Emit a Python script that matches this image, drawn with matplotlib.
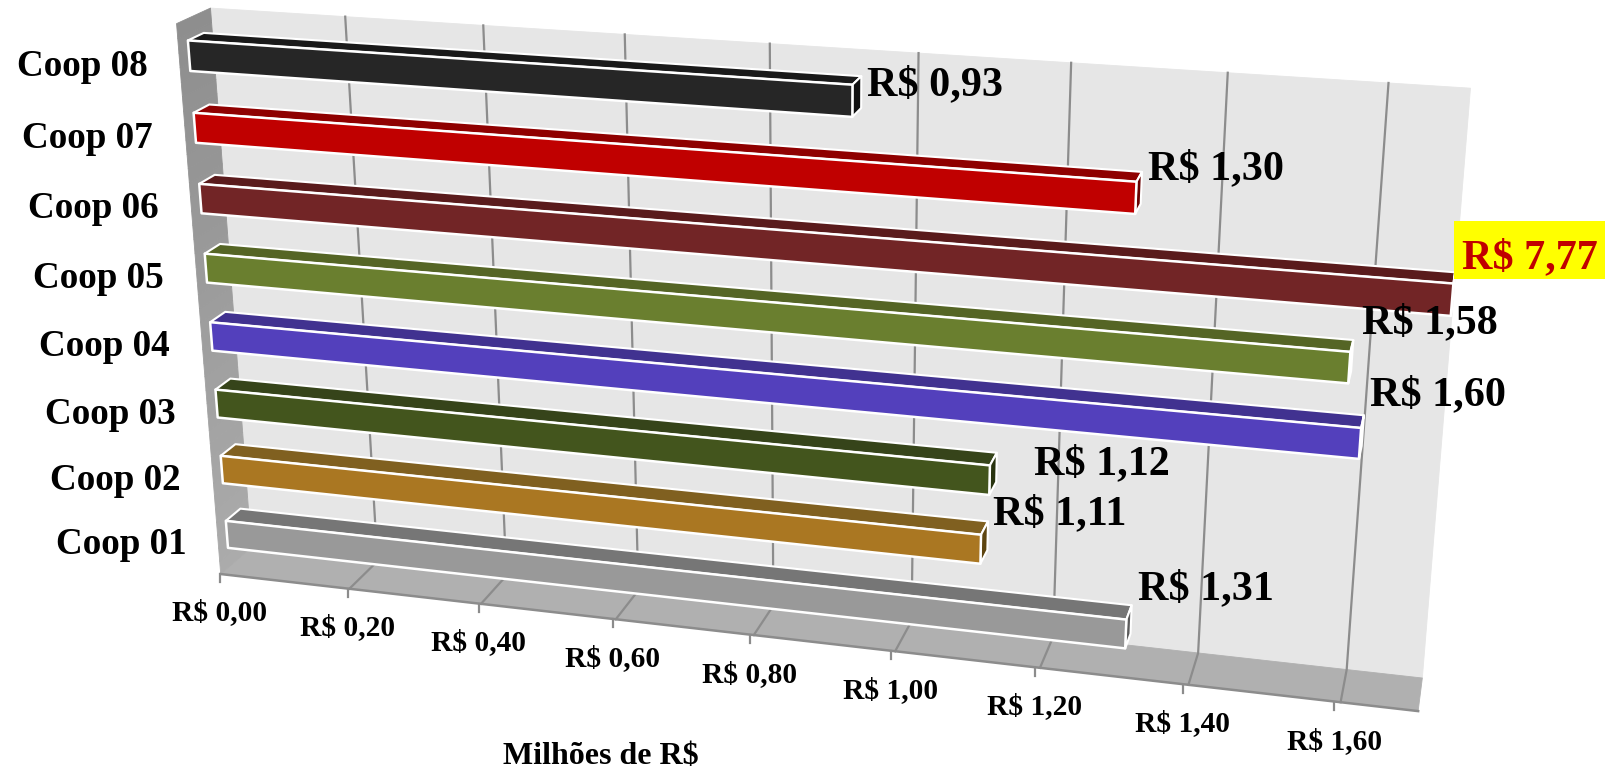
import numpy as np
import matplotlib
matplotlib.use("Agg")
import matplotlib.pyplot as plt
from matplotlib.patches import Polygon, Rectangle

# ---- data ----
categories = ["Coop 01", "Coop 02", "Coop 03", "Coop 04", "Coop 05", "Coop 06", "Coop 07", "Coop 08"]
values = [1.31, 1.11, 1.12, 1.60, 1.58, 7.77, 1.30, 0.93]
value_labels = ["R$ 1,31", "R$ 1,11", "R$ 1,12", "R$ 1,60", "R$ 1,58", "R$ 7,77", "R$ 1,30", "R$ 0,93"]
tick_values = [0.0, 0.2, 0.4, 0.6, 0.8, 1.0, 1.2, 1.4, 1.6]
tick_labels = ["R$ 0,00", "R$ 0,20", "R$ 0,40", "R$ 0,60", "R$ 0,80", "R$ 1,00", "R$ 1,20", "R$ 1,40", "R$ 1,60"]
axis_title = "Milhões de R$"
axis_max = 1.7

# ---- styles ----
front_colors = ["#999999", "#AA7722", "#43551D", "#5340BC", "#6A7F2F", "#722526", "#C00000", "#262626"]
top_colors = ["#767676", "#806020", "#36441A", "#413290", "#556525", "#5A1B1C", "#8F0000", "#1A1A1A"]
end_colors = ["#5A5A5A", "#5E4510", "#28330F", "#8A80C8", "#A0AC80", "#5A1B1C", "#6A0000", "#111111"]
label_pos = [(1206, 589), (1060, 514), (1102, 464), (1438, 395), (1430, 323), (1530, 258), (1216, 169), (935, 85)]
cat_pos = [(121, 544), (115, 480), (110, 414), (104, 346), (98, 279), (93, 209), (87, 138), (82, 66)]
FONT = "Liberation Serif"
BAR_FRAC = 0.42
D1, D2 = 0.28, 0.75

# ---- perspective camera: calibrated from the frame of the 3-D box ----
# (value, category 0..1, depth 0..1) -> pixel
calib = [
    (0, 0, 1, 250, 548), (0, 1, 1, 211, 8), (axis_max, 1, 1, 1469, 87), (axis_max, 0, 1, 1423, 676),
    (0, 0, 0, 222, 573), (0, 1, 0, 175, 24), (axis_max, 0, 0, 1418, 712),
    (1.6, 0, 0, 1341, 703), (1.6, 1, 1, 1389, 83), (1.6, 0, 1, 1346, 671),
    (0.8, 1, 1, 772, 44), (0.8, 0, 0, 753, 635), (0.2, 0, 0, 350, 588), (0.2, 1, 1, 345, 17),
]
A, b = [], []
for v, c, d, x, y in calib:
    A.append([v, c, d, 1, 0, 0, 0, 0, -x * v, -x * c, -x * d]); b.append(x)
    A.append([0, 0, 0, 0, v, c, d, 1, -y * v, -y * c, -y * d]); b.append(y)
P = np.linalg.lstsq(np.array(A, float), np.array(b, float), rcond=None)[0]
P = np.append(P, 1.0).reshape(3, 4)


def project(v, c, d):
    h = P @ np.array([v, c, d, 1.0])
    return h[0] / h[2], h[1] / h[2]


fig = plt.figure(figsize=(16.06, 7.70), dpi=100)
ax = fig.add_axes([0, 0, 1, 1])
ax.set_xlim(0, 1606)
ax.set_ylim(770, 0)
ax.axis("off")


def face(pts, fc, ec=None, lw=0.6, z=1):
    ax.add_patch(Polygon([project(*p) for p in pts], closed=True, fc=fc,
                         ec=ec if ec else fc, lw=lw, zorder=z, joinstyle="round"))


# walls
face([(0, 0, 1), (axis_max, 0, 1), (axis_max, 1, 1), (0, 1, 1)], "#E6E6E6")
face([(0, 0, 0), (axis_max, 0, 0), (axis_max, 0, 1), (0, 0, 1)], "#B0B0B0")
N = 40
for i in range(N):
    c0, c1 = i / N, (i + 1) / N
    g = 0xAC + (0x8E - 0xAC) * (i + 0.5) / N
    col = "#%02x%02x%02x" % (int(g), int(g), int(g))
    face([(0, c0, 0), (0, c1, 0), (0, c1, 1), (0, c0, 1)], col)

# grid, axis line, ticks, tick labels
GRID = "#8C8C8C"
for v, t in zip(tick_values, tick_labels):
    if v > 0:
        pts = [project(v, 0, 0), project(v, 0, 1), project(v, 1, 1)]
        ax.plot(*zip(*pts), color=GRID, lw=1.6, zorder=2, solid_joinstyle="round")
    fx, fy = project(v, 0, 0)
    tx = fx - 1 - 3.4 * v
    ax.plot([tx, tx], [fy, fy + 8], color=GRID, lw=1.6, zorder=2)
    ax.text(tx, fy + 39, t, family=FONT, weight="bold", fontsize=21.2, ha="center", va="center",
            color="black", zorder=10)
ax.plot(*zip(project(0, 0, 0), project(axis_max, 0, 0)), color=GRID, lw=1.8, zorder=2)

# bars, back row first
n = len(categories)
for i in range(n - 1, -1, -1):
    cc = (i + 0.5) / n
    c0, c1 = cc - BAR_FRAC / n / 2, cc + BAR_FRAC / n / 2
    v = min(values[i], axis_max)
    z = 3 + (n - i)
    face([(0, c1, D1), (v, c1, D1), (v, c1, D2), (0, c1, D2)], top_colors[i], "white", 1.5, z)
    face([(v, c0, D1), (v, c1, D1), (v, c1, D2), (v, c0, D2)], end_colors[i], "white", 1.5, z)
    face([(0, c0, D1), (v, c0, D1), (v, c1, D1), (0, c1, D1)], front_colors[i], "white", 1.8, z)

# yellow highlight behind the capped bar's label
ax.add_patch(Rectangle((1454, 221), 152, 58, fc="#FFFF00", ec="none", zorder=15))

# labels
for i in range(n):
    col = "#C00000" if values[i] > axis_max else "black"
    ax.text(*label_pos[i], value_labels[i], family=FONT, weight="bold", fontsize=30.3,
            ha="center", va="center", color=col, zorder=16)
    ax.text(*cat_pos[i], categories[i], family=FONT, weight="bold", fontsize=26.7,
            ha="center", va="center", color="black", zorder=16)
ax.text(601, 756, axis_title, family=FONT, weight="bold", fontsize=23, ha="center", va="center",
        color="black", zorder=16)

fig.savefig("out.png", dpi=100, facecolor="white")
